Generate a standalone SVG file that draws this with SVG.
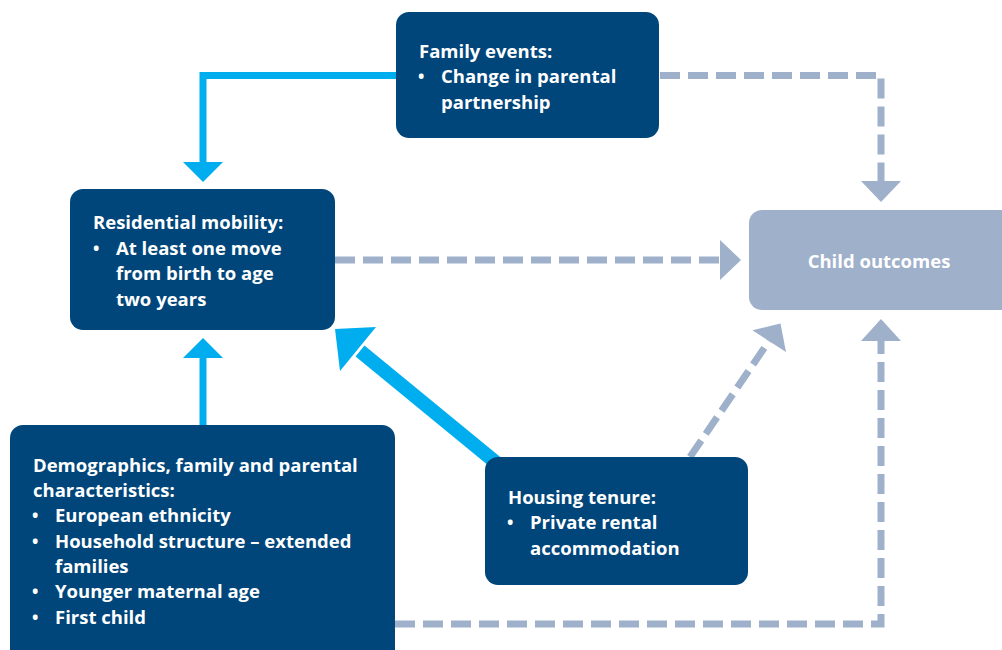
<svg xmlns="http://www.w3.org/2000/svg" width="1002" height="650" viewBox="0 0 1002 650">
  <style>
    .node { fill: #00467a; }
    .outcome { fill: #9eb0ca; }
    .t { font-family: "Open Sans", "Noto Sans", sans-serif; font-weight: 700; font-size: 18.5px; fill: #ffffff; }
    .b { font-size: 17px; }
    .solid { fill: none; stroke: #00aeef; stroke-width: 7; }
    .dash { fill: none; stroke: #9eb0ca; stroke-width: 7; stroke-dasharray: 20 8; }
    .headC { fill: #00aeef; }
    .headG { fill: #9eb0ca; }
  </style>
  <rect width="1002" height="650" fill="#ffffff"/>
  <g id="connectors">
    <path class="solid" d="M400,75.5 H203 V163"/>
    <polygon class="headC" points="183,162 223,162 203,182"/>
    <path class="solid" d="M203,430 V357"/>
    <polygon class="headC" points="183,358 223,358 203,338"/>
    <line x1="360" y1="351" x2="505" y2="470" stroke="#00aeef" stroke-width="14"/>
    <polygon class="headC" points="335,329 376,327 340,371"/>
    <path class="dash" d="M660,75.5 H881 V182"/>
    <polygon class="headG" points="861,181 901,181 881,202"/>
    <path class="dash" d="M335,260 H721"/>
    <polygon class="headG" points="720,240 720,280 741,260"/>
    <line class="dash" x1="690" y1="457" x2="769" y2="341"/>
    <polygon class="headG" points="780.5,323.5 786,352 752.4,330.3"/>
    <path class="dash" d="M395,624 H881 V340"/>
    <polygon class="headG" points="861,341 901,341 881,319"/>
  </g>
  <g id="family-events">
    <rect class="node" x="396" y="12" width="263" height="126" rx="13"/>
    <text class="t" x="419" y="57.5">Family events:</text>
    <text class="t b" x="418" y="83">•</text>
    <text class="t" x="441" y="83">Change in parental</text>
    <text class="t" x="441" y="108.5">partnership</text>
  </g>
  <g id="residential-mobility">
    <rect class="node" x="70" y="189" width="265" height="141" rx="13"/>
    <text class="t" x="93" y="229">Residential mobility:</text>
    <text class="t b" x="93" y="254.5">•</text>
    <text class="t" x="116" y="254.5">At least one move</text>
    <text class="t" x="116" y="280">from birth to age</text>
    <text class="t" x="116" y="305.5">two years</text>
  </g>
  <g id="child-outcomes">
    <rect class="outcome" x="749" y="210" width="270" height="100" rx="13"/>
    <text class="t" x="879" y="268" text-anchor="middle">Child outcomes</text>
  </g>
  <g id="demographics">
    <rect class="node" x="10" y="425" width="385" height="240" rx="13"/>
    <text class="t" x="33" y="471.5">Demographics, family and parental</text>
    <text class="t" x="33" y="497">characteristics:</text>
    <text class="t b" x="32" y="522.3">•</text>
    <text class="t" x="55" y="522.3">European ethnicity</text>
    <text class="t b" x="32" y="547.6">•</text>
    <text class="t" x="55" y="547.6">Household structure – extended</text>
    <text class="t" x="55" y="573">families</text>
    <text class="t b" x="32" y="598.3">•</text>
    <text class="t" x="55" y="598.3">Younger maternal age</text>
    <text class="t b" x="32" y="623.6">•</text>
    <text class="t" x="55" y="623.6">First child</text>
  </g>
  <g id="housing-tenure">
    <rect class="node" x="485" y="457" width="263" height="128" rx="13"/>
    <text class="t" x="508" y="503.5">Housing tenure:</text>
    <text class="t b" x="507" y="529">•</text>
    <text class="t" x="530" y="529">Private rental</text>
    <text class="t" x="530" y="554.5">accommodation</text>
  </g>
</svg>
